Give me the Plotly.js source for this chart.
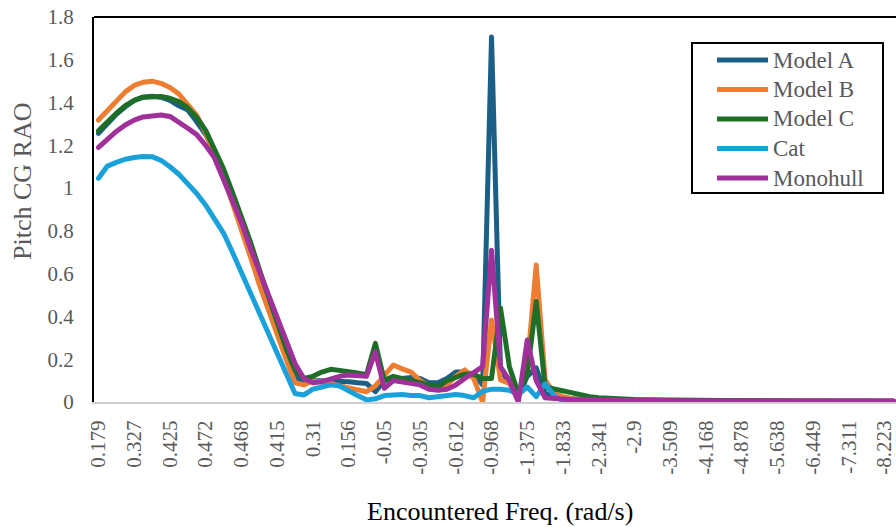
<!DOCTYPE html>
<html>
<head>
<meta charset="utf-8">
<script src="https://cdn.plot.ly/plotly-3.0.1.min.js"></script>
<style>
  html, body { margin: 0; padding: 0; overflow: hidden; background: #fff; }
  #chart { width: 910px; height: 527px; }
  .js-line { stroke-linejoin: round !important; stroke-linecap: round !important; }
</style>
</head>
<body>
<div id="chart"></div>
<script>
// Encountered frequency labels (one label every 4 categories)
const freqLabels = ["0.179", "0.327", "0.425", "0.472", "0.468", "0.415", "0.31", "0.156",
  "-0.05", "-0.305", "-0.612", "-0.968", "-1.375", "-1.833", "-2.341", "-2.9", "-3.509",
  "-4.168", "-4.878", "-5.638", "-6.449", "-7.311", "-8.223"];
const labelStep = 4;

const seriesNames = ["Model A", "Model B", "Model C", "Cat", "Monohull"];
const seriesColors = ["#1b5f86", "#ed7d31", "#1f6e27", "#1aa1da", "#a0309a"];

// Pitch CG RAO values per encountered frequency category
const modelA = [
  1.256, 1.30, 1.345, 1.38, 1.41, 1.425, 1.43, 1.425, 1.41, 1.385,
  1.365, 1.31, 1.25, 1.175, 1.07, 0.95, 0.835, 0.71, 0.585, 0.465,
  0.34, 0.22, 0.12, 0.09, 0.10, 0.10, 0.10, 0.10, 0.095, 0.09,
  0.087, 0.048, 0.10, 0.105, 0.11, 0.115, 0.11, 0.09, 0.09, 0.11,
  0.14, 0.14, 0.13, 0.08, 1.706, 0.15, 0.088, 0.025, 0.12, 0.16,
  0.04, 0.025, 0.02, 0.015, 0.012, 0.011, 0.01, 0.01, 0.009, 0.009,
  0.008, 0.008, 0.007, 0.007, 0.007, 0.006, 0.006, 0.006, 0.006, 0.005,
  0.005, 0.005, 0.005, 0.005, 0.004, 0.004, 0.004, 0.004, 0.004, 0.004,
  0.004, 0.003, 0.003, 0.003, 0.003, 0.003, 0.003, 0.003, 0.003, 0.003
];
const modelB = [
  1.318, 1.36, 1.41, 1.45, 1.48, 1.495, 1.50, 1.49, 1.47, 1.44,
  1.39, 1.34, 1.26, 1.16, 1.05, 0.93, 0.81, 0.68, 0.55, 0.43,
  0.32, 0.20, 0.09, 0.08, 0.10, 0.095, 0.087, 0.075, 0.064, 0.055,
  0.048, 0.075, 0.12, 0.173, 0.155, 0.14, 0.10, 0.075, 0.065, 0.08,
  0.12, 0.15, 0.11, 0.0, 0.383, 0.103, 0.087, 0.025, 0.165, 0.64,
  0.103, 0.04, 0.025, 0.015, 0.012, 0.01, 0.01, 0.009, 0.009, 0.008,
  0.008, 0.007, 0.007, 0.007, 0.006, 0.006, 0.006, 0.005, 0.005, 0.005,
  0.005, 0.005, 0.004, 0.004, 0.004, 0.004, 0.004, 0.004, 0.003, 0.003,
  0.003, 0.003, 0.003, 0.003, 0.003, 0.003, 0.003, 0.003, 0.003, 0.003
];
const modelC = [
  1.268, 1.31, 1.35, 1.385, 1.41, 1.425, 1.428, 1.428, 1.42, 1.405,
  1.375, 1.33, 1.27, 1.18, 1.09, 0.98, 0.87, 0.75, 0.62, 0.50,
  0.37, 0.25, 0.15, 0.11, 0.12, 0.14, 0.153, 0.15, 0.142, 0.136,
  0.128, 0.274, 0.10, 0.12, 0.11, 0.10, 0.087, 0.075, 0.07, 0.10,
  0.115, 0.13, 0.13, 0.11, 0.11, 0.44, 0.165, 0.04, 0.13, 0.47,
  0.07, 0.06, 0.05, 0.04, 0.03, 0.025, 0.02, 0.017, 0.015, 0.013,
  0.012, 0.011, 0.01, 0.01, 0.009, 0.009, 0.008, 0.008, 0.008, 0.007,
  0.007, 0.007, 0.006, 0.006, 0.006, 0.006, 0.005, 0.005, 0.005, 0.005,
  0.005, 0.005, 0.004, 0.004, 0.004, 0.004, 0.004, 0.004, 0.004, 0.004
];
const cat = [
  1.046, 1.103, 1.12, 1.135, 1.143, 1.148, 1.147, 1.13, 1.10, 1.065,
  1.02, 0.975, 0.92, 0.855, 0.79, 0.70, 0.605, 0.51, 0.42, 0.325,
  0.23, 0.13, 0.04, 0.033, 0.06, 0.07, 0.08, 0.075, 0.05, 0.03,
  0.01, 0.015, 0.03, 0.035, 0.035, 0.03, 0.03, 0.02, 0.025, 0.035,
  0.035, 0.03, 0.02, 0.05, 0.06, 0.06, 0.055, 0.035, 0.07, 0.025,
  0.085, 0.03, 0.005, 0.003, 0.003, 0.002, 0.002, 0.002, 0.002, 0.002,
  0.002, 0.002, 0.002, 0.002, 0.002, 0.002, 0.002, 0.002, 0.002, 0.002,
  0.002, 0.002, 0.002, 0.002, 0.002, 0.002, 0.002, 0.002, 0.002, 0.002,
  0.002, 0.002, 0.002, 0.002, 0.002, 0.002, 0.002, 0.002, 0.002, 0.002
];
const monohull = [
  1.19, 1.23, 1.265, 1.295, 1.318, 1.333, 1.34, 1.342, 1.335, 1.31,
  1.28, 1.25, 1.20, 1.14, 1.04, 0.95, 0.84, 0.72, 0.61, 0.50,
  0.39, 0.28, 0.18, 0.11, 0.09, 0.095, 0.11, 0.12, 0.126, 0.125,
  0.12, 0.235, 0.064, 0.10, 0.095, 0.09, 0.08, 0.06, 0.055, 0.06,
  0.08, 0.11, 0.135, 0.165, 0.71, 0.165, 0.10, 0.0, 0.29, 0.10,
  0.02, 0.015, 0.012, 0.01, 0.01, 0.009, 0.009, 0.008, 0.008, 0.008,
  0.007, 0.007, 0.007, 0.007, 0.006, 0.006, 0.006, 0.006, 0.006, 0.005,
  0.005, 0.005, 0.005, 0.005, 0.005, 0.005, 0.005, 0.005, 0.005, 0.005,
  0.005, 0.005, 0.005, 0.005, 0.005, 0.005, 0.005, 0.005, 0.005, 0.005
];

const seriesValues = [modelA, modelB, modelC, cat, monohull];

// Plot-area geometry in pixels
const W = 910, H = 527;
const M = { l: 94, r: 12, t: 17, b: 125 };
const plotW = W - M.l - M.r, plotH = H - M.t - M.b;
const px = x => (x - M.l) / plotW;          // pixel -> paper x
const py = y => (H - M.b - y) / plotH;      // pixel -> paper y

const nCat = modelA.length;
const xIdx = modelA.map((_, i) => i);

const serif = "Liberation Serif";
const grey = "#595959";

const traces = seriesNames.map((name, k) => ({
  type: "scatter",
  mode: "lines",
  name: name,
  x: xIdx,
  y: seriesValues[k],
  line: { color: seriesColors[k], width: 5 },
  hoverinfo: "skip"
}));

// Legend drawn as shapes + annotations
const shapes = [
  { type: "line", xref: "paper", yref: "paper", x0: 0, x1: 1, y0: 1, y1: 1,
    line: { color: "#000", width: 2 } },
  { type: "rect", xref: "paper", yref: "paper",
    x0: px(692), x1: px(883), y0: py(43), y1: py(193),
    line: { color: "#000", width: 2 }, fillcolor: "#fff" }
];
const annotations = [
  { xref: "paper", yref: "paper", x: px(500), y: py(512), showarrow: false,
    text: "Encountered Freq. (rad/s)", xanchor: "center", yanchor: "middle",
    font: { family: serif, size: 26, color: "#000" } },
  { xref: "paper", yref: "paper", x: px(22), y: py(182), showarrow: false,
    text: "Pitch CG RAO", textangle: -90, xanchor: "center", yanchor: "middle",
    font: { family: serif, size: 26, color: grey } }
];
seriesNames.forEach((name, k) => {
  const yy = 60 + 29.5 * k;
  shapes.push({ type: "line", xref: "paper", yref: "paper",
    x0: px(717), x1: px(768), y0: py(yy), y1: py(yy),
    line: { color: seriesColors[k], width: 5 } });
  annotations.push({ xref: "paper", yref: "paper", x: px(771), y: py(yy),
    showarrow: false, text: name, xanchor: "left", yanchor: "middle",
    font: { family: serif, size: 23, color: grey } });
});

const layout = {
  width: W, height: H,
  margin: M,
  paper_bgcolor: "#fff",
  plot_bgcolor: "#fff",
  showlegend: false,
  font: { family: serif },
  xaxis: {
    range: [-0.5, nCat - 0.5],
    tickmode: "array",
    tickvals: freqLabels.map((_, j) => j * labelStep),
    ticktext: freqLabels,
    tickangle: -90,
    tickfont: { family: serif, size: 21, color: grey },
    ticks: "",
    ticklabelstandoff: 8,
    showgrid: false, zeroline: false,
    showline: true, linecolor: "#d0d0d0", linewidth: 2
  },
  yaxis: {
    range: [0, 1.8],
    dtick: 0.2,
    tick0: 0,
    tickfont: { family: serif, size: 21, color: grey },
    ticks: "",
    ticklabelstandoff: 14,
    showgrid: false, zeroline: false,
    showline: true, linecolor: "#000", linewidth: 2, mirror: true
  },
  shapes: shapes,
  annotations: annotations
};

Plotly.newPlot("chart", traces, layout, { staticPlot: true, displayModeBar: false });
</script>
</body>
</html>
